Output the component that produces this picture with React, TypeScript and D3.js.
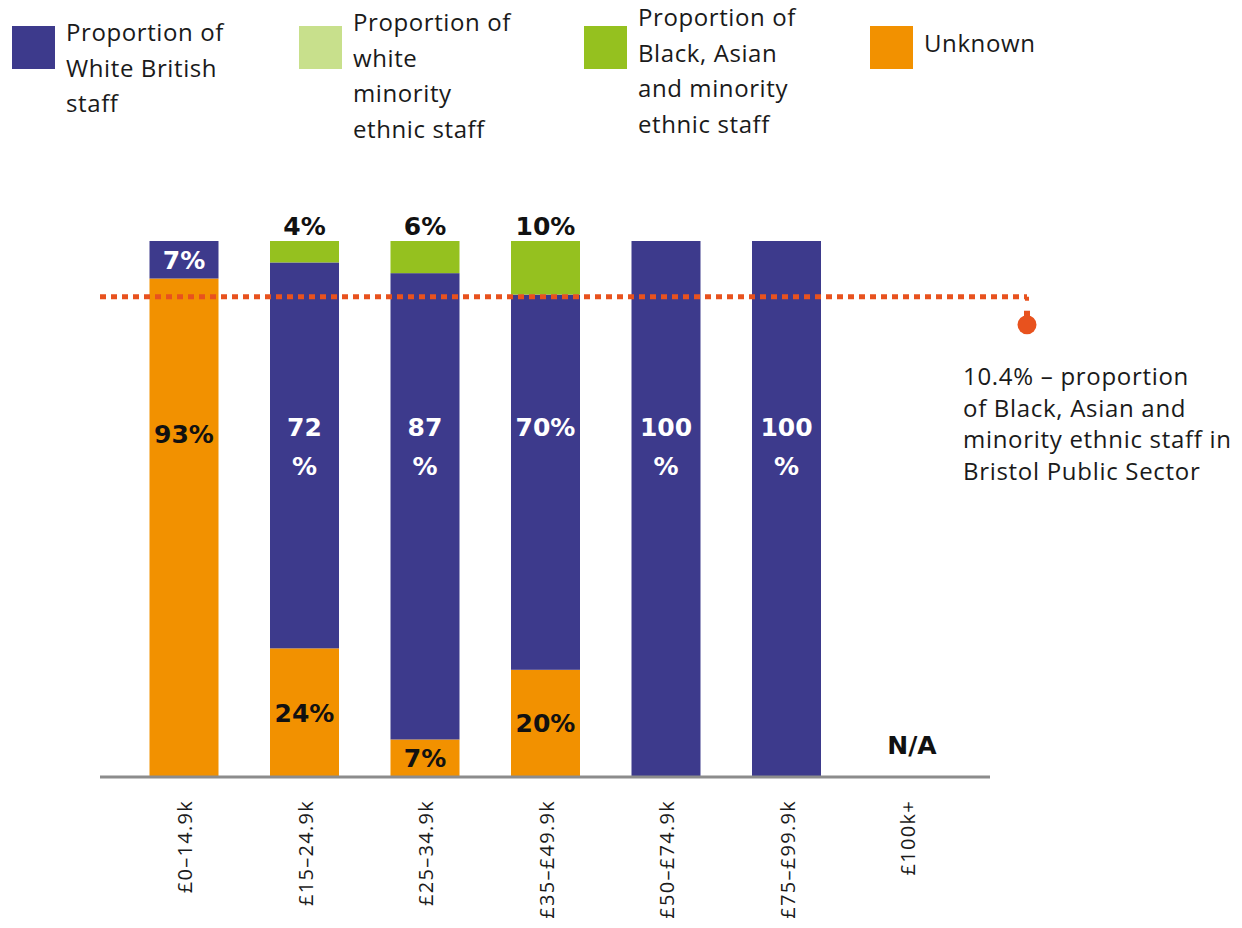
import React from "react";
import * as d3 from "d3";

const categories = ["£0–14.9k", "£15–24.9k", "£25–34.9k", "£35–£49.9k", "£50–£74.9k", "£75–£99.9k", "£100k+"];
const unknownValues = [93, 24, 7, 20, 0, 0, 0];
const whiteBritishValues = [7, 72, 87, 70, 100, 100, 0];
const whiteMinorityValues = [0, 0, 0, 0, 0, 0, 0];
const bameValues = [0, 4, 6, 10, 0, 0, 0];
const hasData = [true, true, true, true, true, true, false];

const unknownLabels = ["93%", "24%", "7%", "20%", "", "", ""];
const whiteBritishLabels = ["7%", "72\n%", "87\n%", "70%", "100\n%", "100\n%", ""];
const bameLabels = ["", "4%", "6%", "10%", "", "", ""];
const noDataLabel = "N/A";

const referenceValue = 10.4;
const referenceText = [
  "10.4% – proportion",
  "of Black, Asian and",
  "minority ethnic staff in",
  "Bristol Public Sector",
];

const legendNames = ["Proportion of\nWhite British\nstaff", "Proportion of\nwhite\nminority\nethnic staff", "Proportion of\nBlack, Asian\nand minority\nethnic staff", "Unknown"];

const COLORS = {
  whiteBritish: "#3d3a8c",
  whiteMinority: "#c8e08c",
  bame: "#95c11f",
  unknown: "#f29100",
  ref: "#e8521e",
  axis: "#8c8c8c",
};

const FONT = "'Open Sans', sans-serif";
const BOLD = "'DejaVu Sans', sans-serif";

export default function App() {
  const W = 1242, H = 928;
  const x = d3.scalePoint<string>().domain(categories).range([184, 907]);
  const y = d3.scaleLinear().domain([0, 100]).range([777, 241]);
  const bw = 69;

  const series = [
    { key: "unknown", values: unknownValues, color: COLORS.unknown },
    { key: "whiteBritish", values: whiteBritishValues, color: COLORS.whiteBritish },
    { key: "whiteMinority", values: whiteMinorityValues, color: COLORS.whiteMinority },
    { key: "bame", values: bameValues, color: COLORS.bame },
  ];

  const rows = categories.map((c, i) => ({
    cat: c,
    unknown: unknownValues[i],
    whiteBritish: whiteBritishValues[i],
    whiteMinority: whiteMinorityValues[i],
    bame: bameValues[i],
  }));
  const stack = d3.stack<any>().keys(series.map((s) => s.key))(rows);

  const legendColors = [COLORS.whiteBritish, COLORS.whiteMinority, COLORS.bame, COLORS.unknown];
  const legendSquareX = [12, 299, 584, 870];
  const legendTextY = [41, 31, 26, 52];

  const labelStyle = { fontFamily: BOLD, fontWeight: 700, fontSize: 25 } as const;

  const refY = y(100 - referenceValue);
  const refEndX = 1027;

  const renderMultiline = (txt: string, cx: number, cy: number, fill: string, key: string) => {
    const lines = txt.split("\n");
    const lh = 39;
    const start = cy - ((lines.length - 1) * lh) / 2;
    return lines.map((l, j) => (
      <text key={key + j} x={cx} y={start + j * lh} dy="0.36em" textAnchor="middle" fill={fill} {...labelStyle}>
        {l}
      </text>
    ));
  };

  return (
    <svg width={W} height={H} style={{ position: "absolute", left: 0, top: 0, background: "#fff" }}>
      {/* legend */}
      {legendNames.map((name, i) => (
        <g key={"lg" + i}>
          <rect x={legendSquareX[i]} y={26} width={43} height={43} fill={legendColors[i]} />
          {name.split("\n").map((l, j) => (
            <text key={j} x={legendSquareX[i] + 54} y={legendTextY[i] + j * 35.5} fontFamily={FONT} fontSize={24} letterSpacing={0.6} fill="#1a1a1a">
              {l}
            </text>
          ))}
        </g>
      ))}

      {/* bars */}
      {stack.map((layer, si) => (
        <g key={layer.key} fill={series[si].color}>
          {layer.map((d, i) =>
            hasData[i] && d[1] - d[0] > 0 ? (
              <rect key={i} x={(x(categories[i]) as number) - bw / 2} y={y(d[1])} width={bw} height={y(d[0]) - y(d[1])} />
            ) : null
          )}
        </g>
      ))}

      {/* reference line */}
      <line x1={100} x2={refEndX} y1={refY} y2={refY} stroke={COLORS.ref} strokeWidth={5} strokeDasharray="6 5" />
      <line x1={refEndX} x2={refEndX} y1={refY} y2={refY + 8} stroke={COLORS.ref} strokeWidth={4} strokeDasharray="4 4" />
      <rect x={refEndX - 3} y={refY + 14} width={6} height={8} fill={COLORS.ref} />
      <circle cx={refEndX} cy={refY + 28} r={9.5} fill={COLORS.ref} />
      {referenceText.map((t, j) => (
        <text key={"rt" + j} x={963} y={385 + j * 31.5} fontFamily={FONT} fontSize={24} letterSpacing={0.7} fill="#1a1a1a">
          {t}
        </text>
      ))}

      {/* labels */}
      {categories.map((c, i) => {
        const cx = x(c) as number;
        const out: any[] = [];
        if (!hasData[i]) {
          out.push(
            <text key="na" x={cx + 5} y={y(6)} dy="0.36em" textAnchor="middle" fill="#111" {...labelStyle}>
              {noDataLabel}
            </text>
          );
          return <g key={"lab" + i}>{out}</g>;
        }
        const u = unknownValues[i], wb = whiteBritishValues[i];
        if (unknownLabels[i]) {
          const cy = u > 50 ? y(64) : y(u / 2);
          out.push(...renderMultiline(unknownLabels[i], cx, cy, "#111", "u"));
        }
        if (whiteBritishLabels[i]) {
          const lines = whiteBritishLabels[i].split("\n").length;
          const cy = wb > 50 ? y(65.3) + ((lines - 1) * 39) / 2 : y(u + wb / 2);
          out.push(...renderMultiline(whiteBritishLabels[i], cx, cy, "#fff", "w"));
        }
        if (bameLabels[i]) {
          out.push(...renderMultiline(bameLabels[i], cx, y(100) - 15, "#111", "b"));
        }
        return <g key={"lab" + i}>{out}</g>;
      })}

      {/* axis */}
      <line x1={100} x2={990} y1={y(0)} y2={y(0)} stroke={COLORS.axis} strokeWidth={3} />
      {categories.map((c) => (
        <text
          key={"tk" + c}
          transform={`translate(${(x(c) as number) + 8},${800}) rotate(-90)`}
          textAnchor="end"
          fontFamily={FONT}
          fontSize={20}
          letterSpacing={1.3}
          fill="#1a1a1a"
        >
          {c}
        </text>
      ))}
    </svg>
  );
}
